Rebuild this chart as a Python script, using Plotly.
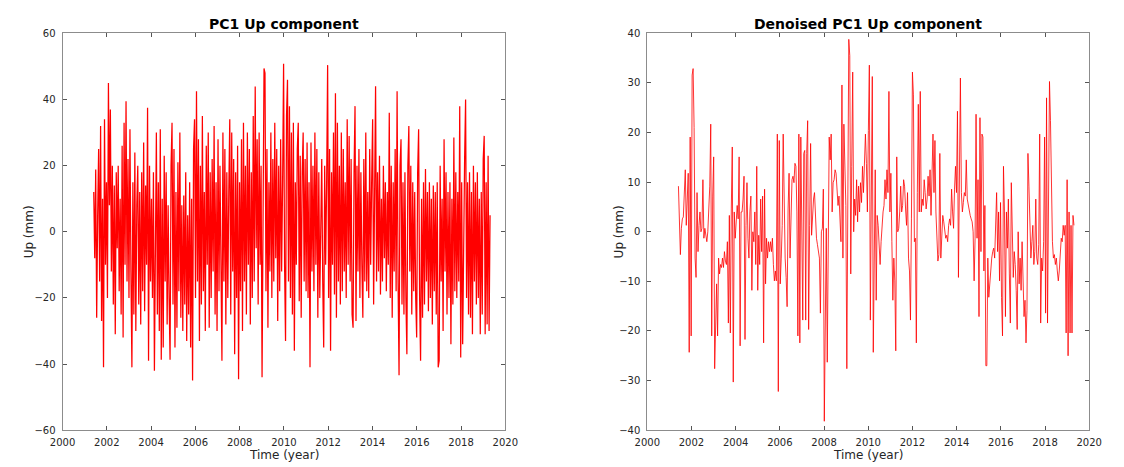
import numpy as np
import plotly.graph_objects as go

# ---------------- data ----------------
t_start, t_end = 2001.41, 2019.31

up_raw = [
    12, -8, 18.8, -26, 5, 25, -15, 32, -27, 10,
    -41, 34, -10, 15, -20, 45, 8, 37, -12, 20,
    -22, 14, -31, 18, -5, 20, -18, 10, -25, 26,
    -32, 33, -10, 39.5, -15, 22, -20, 31, -12, -41,
    15, -25, 24, -30, 8, 20, -22, 12, -28, 18,
    -18, 27, -24, 14, -10, 37.5, -39, 20, -15, 10,
    -20, 18, -42, 12, 30, -25, 15, -30, 31, -38.7,
    10, -35, 23, -15, 18, -28, 8, -20, -38.7, 20,
    33, -22, 25, -35, 12, -29, 21, -18, 30, -26,
    8, -30, 11, -22, 18, -33, 5, -25, 15, -35,
    10, -45, 25, 34, -20, 42.5, -15, 28, -33, 20,
    -22, 35, -18, 12, -30, 26, -10, 30, -29, 18,
    -20, 22, -12, 32, -25, 15, -30, 28, -18, 20,
    -10, -39, 30, -15, 25, -28, 18, -20, 12, 34,
    -25, 30, -12, 22, -37, 18, -20, 26, -44.6, 15,
    -18, 28, -30, 33, -15, 20, -25, 30, -10, 25,
    -28, 18, -20, 35, -15, 43.9, -5, 28, -22, 30,
    -10, 20, -44, 15, 49.4, 48, -18, 25, -29, 15,
    -12, 30, -20, 22, -15, 33, -8, 25, -27, 20,
    -18, 28, -12, 15, 50.8, -10, -33, 35, 46, -15,
    38, -20, 30, -25, 33, -36, 15, -10, 25, 33,
    -21, 23, -26, 18, 30, -15, 22, -18, 27, -20,
    15, -41, 27, -12, 20, -18, 30, -10, 25, -26,
    18, -20, 12, 22, -15, -35, 20, -10, 15, 50.4,
    -20, 25, -36, 18, -10, 30, -19, 41.9, -26, 33,
    -15, 20, -22, 30, -18, 25, -12, 15, -20, 34,
    -10, 29, -15, 22, -25, -29, 18, 38, -27, 20,
    -12, 25, -20, 18, -10, -26, 22, -15, 30, -18,
    12, -20, 25, -10, 15, 34, -22, 20, 44, -15,
    18, -12, 23, -19, 10, -15, 20, -8, 15, -18,
    12, -10, 36, -20, 20, -26, 15, -12, 25, -18,
    42.5, -15, -43.4, 20, 28, -22, 15, -25, 18, -20,
    -37, 20, 32, -12, 20, -25, 15, -18, 12, -20,
    -32, 18, 31, -20, -39, 10, -26, 15, -22, 19,
    -15, 12, -24, 15, -20, 10, -28, 14, -18, 12,
    -25, 15, -41, -39, 20, -15, 10, -30, 28, -12,
    18, -25, 12, -20, 15, -34, 10, -22, 28.5, -18,
    18, -20, 12, -15, 38, -38, 15, -34, 10, 22,
    40, -20, 15, -25, 18, -26, 12, -31, 20, -15,
    15, -22, 18, -20, 10, -31, 12, -25, 22, 29,
    -31, 15, -28, 23, -30, 5,
]

up_denoised = [
    9.2, 1.3, -4.6, 0.7, 2.6, 3.0, 9.0, 12.5, 1.3, 7.2,
    11.8, -24.3, 19.1, -21.0, 31.6, 32.9, 21.0, -5.3, -9.2, 7.9,
    -4.0, 1.3, 4.0, 0.0, 0.7, 10.5, -1.3, 0.7, -1.3, -2.0,
    0.0, 4.6, 9.2, 21.7, -21.0, 7.2, 15.1, -27.6, -18.4, -10.5,
    -21.0, -5.3, -8.5, -6.6, -7.2, -5.3, -7.2, -4.0, -5.9, -6.6,
    -2.0, -18.4, 3.3, -20.4, 4.6, 17.1, -30.3, 4.0, -1.3, 4.0,
    5.3, 2.6, 15.1, -23.0, 4.0, 4.0, 6.6, 11.2, -21.7, 1.3,
    9.9, -1.3, -5.3, 4.0, 7.2, -11.8, 0.0, -2.0, 4.0, -6.6,
    13.2, -11.8, -0.7, -6.6, 6.6, -4.0, 7.2, -22.4, 8.6, -10.5,
    -1.3, -5.3, -2.0, -4.0, -2.0, -4.0, -1.3, -6.6, -9.9, -7.9,
    -9.9, 19.7, -32.2, 18.4,
    -10.5, -5.3, 1.3, 19.7, 4.0, -5.3, -9.2, -15.1, 4.6, 11.8,
    -5.3, 6.6, 10.5, 11.2, 9.9, 13.8, 13.2, 4.0, -21.0, 19.7,
    -22.4, 19.1, 5.3, -17.8, 15.8, 16.4, -17.8, 15.8, 22.4, -19.7,
    1.3, 17.8, -0.7, 4.0, 6.6, 7.9, 2.0, -1.3, -2.6, -4.0,
    -5.3, -16.4, 0.0, 0.7, 8.6, -38.2, -18.4, 0.7, -26.3, 5.3,
    19.1, 14.5, 19.7, 4.0, 9.9, 10.5, 12.5, 11.8, 9.2, 5.3,
    7.2, 1.3, -2.0, 29.6, -5.3, 21.7, 13.2, 5.3, -27.6, 7.9,
    38.8, 35.5, -8.5, 13.2, 32.2, 0.0, 6.6, 3.3, 10.5, 2.0,
    9.2, 4.0, 9.9, 5.9, 13.2, 7.9, 13.8, 19.7, 13.8, 4.0,
    20.4, 33.6, -17.8, 15.0, 31.3, -24.3,
    0.0, 12.5, -13.8, 3.3, 1.3, -2.6, -6.6, -2.0, 1.3, 4.0,
    5.3, 10.5, 6.6, 12.5, 7.9, 28.3, 4.0, 11.8, -2.0, -13.8,
    -5.3, -9.9, -24.0, 15.1, 0.0, 0.7, 4.0, 9.2, 4.0, 5.3,
    10.5, 9.2, 4.6, 1.3, 7.9, -5.3, -7.9, -17.8, 2.6, 32.2,
    27.6, -2.0, -1.3, -22.4, 7.9, 25.7, 4.0, 28.3, 4.0, 6.6,
    5.3, 10.5, 7.9, 4.6, 6.6, 11.2, 7.2, 12.5, 3.3, 12.5,
    19.7, 7.9, 18.4, 4.0, 0.0, -5.9, -4.6, 15.8, -5.3, 1.3,
    3.3, 2.0, 0.7, -1.3, -0.7, -2.0, 1.3, 2.6, 1.3, 8.6,
    4.0, 0.7, 8.6, 13.2, 7.9, 24.3, -9.2, 7.2, 31.0, 7.9,
    4.0, 5.9, 7.9, 7.2, 14.5, 6.6, 5.3, 4.0, 3.3, 2.6,
    2.0, 0.0, -9.9, -1.3,
    23.7, -1.3, 10.5, -17.1, 23.0, -4.0, 19.7, 19.1, -7.9, 5.3,
    -27.0, -27.0, -5.3, -13.2, -10.5, -7.2, -5.3, -4.0, -3.3, -5.3,
    1.3, 7.9, -4.0, 4.0, -9.9, 5.9, -13.2, -21.0, 13.2, 4.0,
    -17.1, 4.0, -3.3, 6.6, -8.5, -18.4, 9.9, -2.6, -9.2, -4.0,
    -6.6, -11.8, -19.7, 0.0, -10.5, -5.3, -11.8, -2.0, -9.2, -17.1,
    -13.8, -22.4, -15.8, 15.8, 9.2, 2.6, -5.3, -2.0, 1.3, -6.6,
    -4.0, 6.6, -5.3, -6.6, -2.6, 19.7, -18.4, -5.3, -7.9, -2.0,
    19.1, -16.4, 27.0, -18.4, 2.6, 30.3, 22.4, 4.6, -2.0, -5.3,
    -4.6, -6.6, -5.3, -7.9, -9.9, -7.9, -4.0, -1.3, -2.0, 1.3,
    -0.7, 1.3, -20.4, 10.5, -25.0, 4.0, -20.4, 1.3, -20.4, 3.3,
    1.3,
]

year_ticks = list(range(2000, 2021, 2))
raw_ticks = [-60, -40, -20, 0, 20, 40, 60]
den_ticks = [-40, -30, -20, -10, 0, 10, 20, 30, 40]

time_raw = np.linspace(t_start, t_end, len(up_raw))
time_den = np.linspace(t_start, t_end, len(up_denoised))

# ---------------- figure ----------------
W, H = 1124, 467
FONT = "DejaVu Sans"

def px_x(p):
    return p / W

def px_y(p):
    return (H - p) / H

fig = go.Figure()
fig.add_trace(go.Scatter(x=time_raw, y=up_raw, mode="lines",
                         line=dict(color="#ff0000", width=1.25),
                         xaxis="x", yaxis="y", showlegend=False))
fig.add_trace(go.Scatter(x=time_den, y=up_denoised, mode="lines",
                         line=dict(color="#ff0000", width=0.8),
                         xaxis="x2", yaxis="y2", showlegend=False))

axis_common = dict(showline=True, linecolor="#8c8c8c", linewidth=1, mirror="ticks",
                   ticks="inside", ticklen=4, tickcolor="#555555", tickwidth=1,
                   showgrid=False, zeroline=False,
                   tickfont=dict(family=FONT, size=10, color="#262626"))

ydom = [px_y(434.5), px_y(29)]
fig.update_layout(
    width=W, height=H,
    margin=dict(l=0, r=0, t=0, b=0),
    paper_bgcolor="white", plot_bgcolor="white",
    xaxis=dict(domain=[px_x(50.7), px_x(504)], range=[2000, 2020], tickvals=year_ticks,
               anchor="y", ticklabelstandoff=3, **axis_common),
    yaxis=dict(domain=ydom, range=[-60, 60], tickvals=raw_ticks, anchor="x",
               ticklabelstandoff=4, **axis_common),
    xaxis2=dict(domain=[px_x(649.3), px_x(1101.7)], range=[2000, 2020], tickvals=year_ticks,
                anchor="y2", ticklabelstandoff=3, **axis_common),
    yaxis2=dict(domain=ydom, range=[-40, 40], tickvals=den_ticks, anchor="x2",
                ticklabelstandoff=4, **axis_common),
)

def ann(text, x, y, size, bold=False, angle=0):
    fig.add_annotation(text=f"<b>{text}</b>" if bold else text,
                       x=px_x(x), y=px_y(y), xref="paper", yref="paper",
                       showarrow=False, textangle=angle,
                       font=dict(family=FONT, size=size, color="#000000" if bold else "#262626"),
                       xanchor="center", yanchor="middle")

ann("PC1 Up component", 277.3, 19.5, 14, bold=True)
ann("Denoised PC1 Up component", 875.5, 19.5, 14, bold=True)
ann("Time (year)", 277.3, 459.5, 12)
ann("Time (year)", 875.5, 459.5, 12)
ann("Up (mm)", 16, 231.7, 12, angle=-90)
ann("Up (mm)", 620, 231.7, 12, angle=-90)

fig.write_html("out.html")
